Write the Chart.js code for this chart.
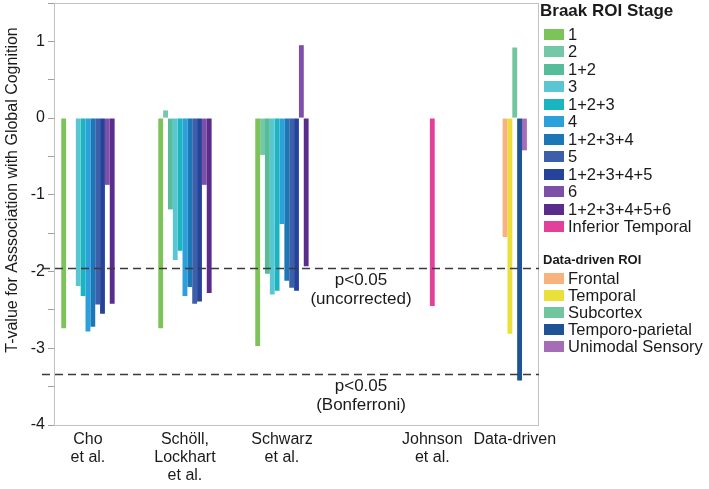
<!DOCTYPE html>
<html>
<head>
<meta charset="utf-8">
<script src="https://cdn.jsdelivr.net/npm/chart.js@4/dist/chart.umd.min.js"></script>
<style>
html, body { margin: 0; padding: 0; background: #fff; }
#wrap { position: relative; width: 709px; height: 489px; font-family: "Liberation Sans", Arial, sans-serif; color: #1a1a1a; }
#legend { position: absolute; left: 544px; top: 0; }
.ttl1 { font-weight: bold; font-size: 17px; height: 22px; line-height: 22px; margin-left: -4px; white-space: nowrap; }
.ttl2 { font-weight: bold; font-size: 13px; height: 16px; line-height: 16px; margin-left: -1px; margin-top: 16.5px; white-space: nowrap; }
.row { display: flex; align-items: center; font-size: 16.5px; white-space: nowrap; }
.sw { width: 20px; height: 11px; margin-right: 4px; flex: none; }
</style>
</head>
<body>
<div id="wrap">
  <canvas id="chart" width="709" height="489"></canvas>
  <div id="legend"></div>
</div>
<script>
// studies on the x axis
var studies = [['Cho', 'et al.'], ['Schöll,', 'Lockhart', 'et al.'], ['Schwarz', 'et al.'], ['Johnson', 'et al.'], ['Data-driven']];

// Braak ROI stages (values per study, null = not tested)
var braakLabels = ['1', '2', '1+2', '3', '1+2+3', '4', '1+2+3+4', '5', '1+2+3+4+5', '6', '1+2+3+4+5+6', 'Inferior Temporal'];
var braakColors = ['#7ec35a', '#74c8a8', '#55bd9a', '#5ac6d2', '#1bb5c1', '#2ba0da', '#1b77b6', '#3d5faa', '#25439b', '#7d4fa7', '#5a2d8d', '#e2409a'];
var stage1      = [-2.74, -2.74, -2.97, null, null];
var stage2      = [null, 0.10, -0.48, null, null];
var stage12     = [null, -1.19, -2.03, null, null];
var stage3      = [-2.19, -1.85, -2.30, null, null];
var stage123    = [-2.32, -1.73, -2.25, null, null];
var stage4      = [-2.78, -2.32, -1.38, null, null];
var stage1234   = [-2.72, -2.20, -2.12, null, null];
var stage5      = [-2.43, -2.42, -2.21, null, null];
var stage12345  = [-2.55, -2.39, -2.25, null, null];
var stage6      = [-0.87, -0.87, 0.95, null, null];
var stage123456 = [-2.42, -2.28, -1.93, null, null];
var infTemporal = [null, null, null, -2.45, null];

// data-driven ROIs
var ddLabels = ['Frontal', 'Temporal', 'Subcortex', 'Temporo-parietal', 'Unimodal Sensory'];
var ddColors = ['#f8b27e', '#ebe03a', '#72c69f', '#1e5396', '#a46db6'];
var frontal   = [null, null, null, null, -1.55];
var temporal  = [null, null, null, null, -2.81];
var subcortex = [null, null, null, null, 0.92];
var tempPar   = [null, null, null, null, -3.42];
var unimodal  = [null, null, null, null, -0.42];

// significance thresholds
var thresholds = [-1.96, -3.34];
var thresholdText = [['p<0.05', '(uncorrected)'], ['p<0.05', '(Bonferroni)']];

var yTitle = 'T-value for Asssociation with Global Cognition';
var FONT = '"Liberation Sans", Arial, sans-serif';

var braakValues = [stage1, stage2, stage12, stage3, stage123, stage4, stage1234, stage5, stage12345, stage6, stage123456, infTemporal];
var ddValues = [frontal, temporal, subcortex, tempPar, unimodal];

// slot order: 11 stages, then data-driven ROIs, then Inferior Temporal last
var datasets = [];
for (var i = 0; i < 11; i++) {
    datasets.push({ label: braakLabels[i], data: braakValues[i], backgroundColor: braakColors[i] });
}
for (var j = 0; j < ddLabels.length; j++) {
    datasets.push({ label: ddLabels[j], data: ddValues[j], backgroundColor: ddColors[j] });
}
datasets.push({ label: braakLabels[11], data: braakValues[11], backgroundColor: braakColors[11] });

// legend
var legend = document.getElementById('legend');
function addTitle(text, cls) {
    var d = document.createElement('div');
    d.className = cls;
    d.textContent = text;
    legend.appendChild(d);
    return d;
}
function addRow(text, color, h) {
    var r = document.createElement('div');
    r.className = 'row';
    r.style.height = h + 'px';
    var s = document.createElement('span');
    s.className = 'sw';
    s.style.background = color;
    var t = document.createElement('span');
    t.textContent = text;
    r.appendChild(s);
    r.appendChild(t);
    legend.appendChild(r);
    return r;
}
addTitle('Braak ROI Stage', 'ttl1');
braakLabels.forEach(function (l, k) {
    var r = addRow(l, braakColors[k], 17.5);
    if (k === 0) r.style.marginTop = '3.5px';
});
addTitle('Data-driven ROI', 'ttl2');
ddLabels.forEach(function (l, k) {
    var r = addRow(l, ddColors[k], 17.2);
    if (k === 0) r.style.marginTop = '1.5px';
});

var overlay = {
    id: 'overlay',
    afterDatasetsDraw: function (chart) {
        var ctx = chart.ctx, a = chart.chartArea, y = chart.scales.y;
        ctx.save();
        // frame
        ctx.strokeStyle = '#c2c2c2';
        ctx.lineWidth = 1;
        ctx.strokeRect(a.left + 0.5, a.top + 0.5, a.right - a.left - 1, a.bottom - a.top);

        // threshold lines
        ctx.setLineDash([8, 5]);
        ctx.strokeStyle = '#3a3a3a';
        ctx.lineWidth = 1.3;
        thresholds.forEach(function (t) {
            var py = Math.round(y.getPixelForValue(t)) + 0.5;
            ctx.beginPath();
            ctx.moveTo(a.left - 12, py);
            ctx.lineTo(a.right, py);
            ctx.stroke();
        });
        ctx.setLineDash([]);

        ctx.fillStyle = '#1a1a1a';
        ctx.textAlign = 'center';
        ctx.textBaseline = 'middle';
        ctx.font = '17px ' + FONT;
        var tx = a.left + (a.right - a.left) * 0.633;
        thresholdText.forEach(function (lines, i) {
            var py = y.getPixelForValue(thresholds[i]);
            lines.forEach(function (s, k) {
                ctx.fillText(s, tx, py + 12 + k * 18.5);
            });
        });

        // study labels under each group of bars
        ctx.font = '16px ' + FONT;
        studies.forEach(function (lines, i) {
            var lo = Infinity, hi = -Infinity;
            chart.data.datasets.forEach(function (ds, d) {
                if (ds.data[i] === null) return;
                var bar = chart.getDatasetMeta(d).data[i];
                lo = Math.min(lo, bar.x - bar.width / 2);
                hi = Math.max(hi, bar.x + bar.width / 2);
            });
            var cx = (lo + hi) / 2;
            lines.forEach(function (s, k) {
                ctx.fillText(s, cx, a.bottom + 15 + k * 18);
            });
        });

        // y axis title
        ctx.translate(13, (a.top + a.bottom) / 2 - 24);
        ctx.rotate(-Math.PI / 2);
        ctx.font = '16px ' + FONT;
        ctx.fillText(yTitle, 0, 0);
        ctx.restore();
    }
};

var ctx = document.getElementById('chart').getContext('2d');
var myChart = new Chart(ctx, {
    type: 'bar',
    data: { labels: studies, datasets: datasets },
    options: {
        responsive: false,
        animation: false,
        layout: { padding: { left: 0, top: 3, right: 170, bottom: 64 } },
        datasets: { bar: { barPercentage: 1, categoryPercentage: 0.85 } },
        scales: {
            x: { display: false },
            y: {
                min: -4,
                max: 1.5,
                border: { display: false },
                grid: { drawOnChartArea: false, drawTicks: true, tickLength: 6, color: '#a0a0a0' },
                ticks: {
                    stepSize: 0.5,
                    padding: 3,
                    color: '#1a1a1a',
                    font: { family: FONT, size: 16 },
                    callback: function (v) { return Number.isInteger(v) ? String(v) : ''; }
                },
                afterFit: function (scale) {
                    scale.width = 54;
                    scale.paddingTop = 0;
                    scale.paddingBottom = 0;
                }
            }
        },
        plugins: {
            legend: { display: false },
            tooltip: { enabled: false }
        }
    },
    plugins: [overlay]
});
</script>
</body>
</html>
